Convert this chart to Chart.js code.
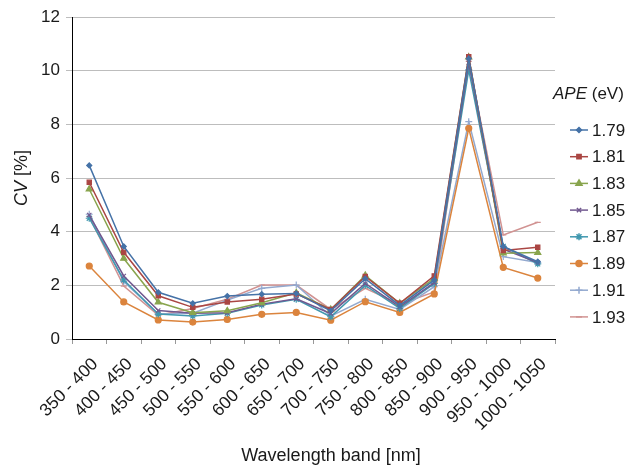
<!DOCTYPE html>
<html>
<head>
<meta charset="utf-8">
<script src="https://cdn.jsdelivr.net/npm/chart.js@4"></script>
<style>
  body { margin: 0; background: #fff; }
  #cvChart { display: block; }
</style>
</head>
<body>
<canvas id="cvChart" width="635" height="466"></canvas>
<script>
// wavelength bands on the x axis
let bands = ["350 - 400", "400 - 450", "450 - 500", "500 - 550", "550 - 600", "600 - 650", "650 - 700",
             "700 - 750", "750 - 800", "800 - 850", "850 - 900", "900 - 950", "950 - 1000", "1000 - 1050"];
let apeLabels = ["1.79", "1.81", "1.83", "1.85", "1.87", "1.89", "1.91", "1.93"];
let yTicks = [0, 2, 4, 6, 8, 10, 12];

// CV [%] per band, one array per APE
let cv179 = [6.47, 3.45, 1.74, 1.33, 1.60, 1.67, 1.70, 1.05, 2.25, 1.25, 2.20, 10.45, 3.45, 2.88];
let cv181 = [5.84, 3.23, 1.61, 1.18, 1.38, 1.48, 1.68, 1.10, 2.33, 1.33, 2.35, 10.52, 3.30, 3.42];
let cv183 = [5.58, 3.00, 1.37, 0.98, 1.05, 1.35, 1.72, 1.10, 2.37, 1.33, 2.26, 10.50, 3.20, 3.22];
let cv185 = [4.62, 2.35, 1.06, 0.96, 0.98, 1.30, 1.50, 0.95, 2.07, 1.20, 2.10, 10.30, 3.35, 2.85];
let cv187 = [4.50, 2.20, 0.93, 0.86, 0.96, 1.27, 1.48, 0.83, 2.00, 1.14, 2.07, 10.03, 3.45, 2.80];
let cv189 = [2.72, 1.38, 0.71, 0.63, 0.73, 0.92, 0.99, 0.70, 1.39, 0.99, 1.68, 7.85, 2.67, 2.27];
let cv191 = [4.65, 2.14, 0.93, 0.96, 1.45, 1.89, 2.01, 0.85, 1.48, 1.10, 1.95, 8.10, 3.07, 2.85];
let cv193 = [4.56, 1.97, 0.89, 1.14, 1.48, 2.01, 2.01, 1.10, 1.89, 1.30, 1.75, 10.35, 3.88, 4.35];

let seriesValues = [cv179, cv181, cv183, cv185, cv187, cv189, cv191, cv193];
let colors = ["#4572A7", "#AA4643", "#89A54E", "#71588F", "#4198AF", "#DB843D", "#93A9CF", "#D19392"];
let markers = ["rectRot", "rect", "triangle", "crossRot", "star", "circle", "cross", "line"];
let markerSizes = [2.5, 3, 3.5, 3, 3.5, 3, 3.5, 3];

const FONT = "'Liberation Sans', Arial, sans-serif";

let datasets = seriesValues.map((vals, i) => ({
    label: apeLabels[i],
    data: vals,
    borderColor: colors[i],
    backgroundColor: colors[i],
    borderWidth: 1.5,
    pointStyle: markers[i],
    pointRadius: markerSizes[i],
    pointBorderWidth: 1.2,
    pointHoverRadius: markerSizes[i],
    tension: 0,
    fill: false
}));

// titles and legend with partly italic text
const textPlugin = {
    id: "textPlugin",
    afterDraw(chart) {
        let ctx = chart.ctx;
        ctx.save();
        ctx.fillStyle = "#1a1a1a";
        ctx.textBaseline = "middle";

        // y axis title: "CV [%]"
        ctx.save();
        ctx.translate(22, 178);
        ctx.rotate(-Math.PI / 2);
        ctx.font = "italic 18px " + FONT;
        let w1 = ctx.measureText("CV").width;
        ctx.font = "18px " + FONT;
        let w2 = ctx.measureText(" [%]").width;
        let start = -(w1 + w2) / 2;
        ctx.textAlign = "left";
        ctx.font = "italic 18px " + FONT;
        ctx.fillText("CV", start, 0);
        ctx.font = "18px " + FONT;
        ctx.fillText(" [%]", start + w1, 0);
        ctx.restore();

        // x axis title
        ctx.textAlign = "center";
        ctx.font = "18px " + FONT;
        ctx.fillText("Wavelength band [nm]", 331, 456);

        // legend title: "APE (eV)"
        ctx.textAlign = "left";
        ctx.font = "italic 17px " + FONT;
        ctx.fillText("APE", 553, 94);
        let wa = ctx.measureText("APE").width;
        ctx.font = "17px " + FONT;
        ctx.fillText(" (eV)", 553 + wa, 94);

        // legend items
        chart.data.datasets.forEach((ds, i) => {
            let y = 130 + i * 26.7;
            ctx.strokeStyle = ds.borderColor;
            ctx.lineWidth = 1.5;
            ctx.beginPath();
            ctx.moveTo(570, y);
            ctx.lineTo(588, y);
            ctx.stroke();
            ctx.fillStyle = ds.backgroundColor;
            Chart.helpers.drawPoint(ctx, {
                pointStyle: ds.pointStyle,
                radius: ds.pointRadius,
                borderWidth: ds.pointBorderWidth,
                rotation: 0
            }, 579, y);
            ctx.fillStyle = "#1a1a1a";
            ctx.font = "17px " + FONT;
            ctx.fillText(ds.label, 592, y + 1);
        });
        ctx.restore();
    }
};

let ctx = document.getElementById("cvChart").getContext("2d");
new Chart(ctx, {
    type: "line",
    data: {
        labels: bands,
        datasets: datasets
    },
    options: {
        responsive: false,
        animation: false,
        layout: {
            padding: { top: 17, right: 80, bottom: 0, left: 0 }
        },
        plugins: {
            legend: { display: false },
            tooltip: { enabled: false }
        },
        scales: {
            x: {
                offset: true,
                grid: {
                    offset: true,
                    drawOnChartArea: false,
                    tickLength: 5,
                    color: "#999"
                },
                border: { color: "#000", width: 1 },
                ticks: {
                    minRotation: 45,
                    maxRotation: 45,
                    autoSkip: false,
                    padding: 10,
                    labelOffset: 6,
                    color: "#1a1a1a",
                    font: { family: FONT, size: 17.5 }
                },
                afterFit(scale) { scale.height = 127; }
            },
            y: {
                min: 0,
                max: 12,
                afterBuildTicks(scale) {
                    scale.ticks = yTicks.map(v => ({ value: v }));
                },
                grid: {
                    color: "#bdbdbd",
                    tickLength: 6
                },
                border: { color: "#000", width: 1 },
                ticks: {
                    padding: 6,
                    color: "#1a1a1a",
                    font: { family: FONT, size: 17 }
                },
                afterFit(scale) { scale.width = 72; }
            }
        }
    },
    plugins: [textPlugin]
});
</script>
</body>
</html>
